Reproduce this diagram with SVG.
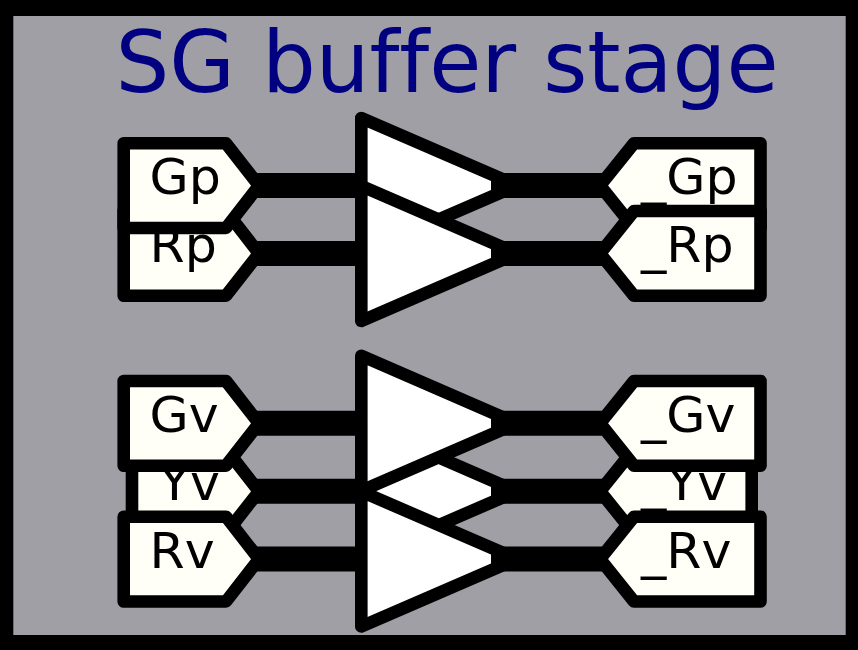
<svg xmlns="http://www.w3.org/2000/svg" width="858" height="650" viewBox="0 0 858 650">
<style>
.p{fill:#fffff8;stroke:#000;stroke-width:12.6;stroke-linejoin:round}
.b{fill:#fff;stroke:#000;stroke-width:12.6;stroke-linejoin:round}
.w{stroke:#000;stroke-width:25;fill:none}
text{font-family:"DejaVu Sans",sans-serif;font-size:50.600px;fill:#000;font-variant-ligatures:none}
</style>
<rect width="858" height="650" fill="#000"/>
<rect x="13.300" y="16" width="832.400" height="619" fill="#a09fa5"/>
<text x="447" y="92" text-anchor="middle" style="font-size:84.800px;fill:#000080">SG buffer stage</text>
<g id="Rp"><path class="p" d="M123.700 211H226L259 253.500L226 295.700H123.700Z"/><text x="149.500" y="262">Rp</text></g>
<g id="Gp"><path class="p" d="M123.700 143.300H226L259 185.500L226 228H123.700Z"/><text x="149.500" y="194">Gp</text></g>
<g id="Yv"><path class="p" d="M132 449H226L259 491.300L226 533.500H132Z"/><text x="159" y="499.700">Yv</text></g>
<g id="Gv"><path class="p" d="M123.700 381H226L259 423.300L226 465.700H123.700Z"/><text x="149.500" y="431.500">Gv</text></g>
<g id="Rv"><path class="p" d="M123.700 516.700H226L259 559L226 601.500H123.700Z"/><text x="149.500" y="567.500">Rv</text></g>
<g id="_Gp"><path class="p" d="M760.500 143.300H634L600 185.500L634 228H760.500Z"/><text x="641" y="194">_Gp</text></g>
<g id="_Rp"><path class="p" d="M760.500 211H634L600 253.500L634 295.700H760.500Z"/><text x="641" y="262">_Rp</text></g>
<g id="_Yv"><path class="p" d="M751.700 449H634L600 491.300L634 533.500H751.700Z"/><text x="641" y="499.700">_Yv</text></g>
<g id="_Gv"><path class="p" d="M760.500 381H634L600 423.300L634 465.700H760.500Z"/><text x="641" y="431.500">_Gv</text></g>
<g id="_Rv"><path class="p" d="M760.500 516.700H634L600 559L634 601.500H760.500Z"/><text x="641" y="567.500">_Rv</text></g>
<g id="bufGp"><path class="b" d="M361.300 118L517 185.500L361.300 253Z"/></g>
<g id="bufRp"><path class="b" d="M361.300 186L517 253.500L361.300 321Z"/></g>
<g id="bufYv"><path class="b" d="M361.300 423.800L517 491.300L361.300 558.800Z"/></g>
<g id="bufGv"><path class="b" d="M361.300 355.800L517 423.300L361.300 490.800Z"/></g>
<g id="bufRv"><path class="b" d="M361.300 491.500L517 559L361.300 626.500Z"/></g>
<g id="connectors">
<path class="w" d="M255 185.500H362M255 253.500H362M255 423.300H362M255 491.300H362M255 559H362M491 185.500H604M491 253.500H604M491 423.300H604M491 491.300H604M491 559H604"/>
</g>
</svg>
